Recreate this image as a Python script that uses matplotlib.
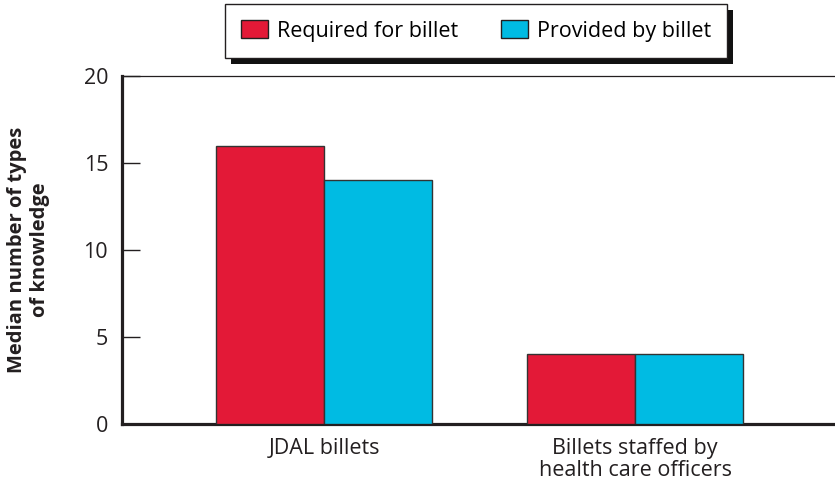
import numpy as np
import matplotlib
matplotlib.use('Agg')
import matplotlib.pyplot as plt
from matplotlib.patches import Rectangle

plt.rcParams['font.family'] = ['Open Sans', 'DejaVu Sans']

# data
groups = ['JDAL billets', 'Billets staffed by\nhealth care officers']
series = ['Required for billet', 'Provided by billet']
required = [16, 4]
provided = [14, 4]
colors = ['#E31937', '#00BBE3']

fig = plt.figure(figsize=(8.35, 4.83), dpi=100)
ax = fig.add_axes([122 / 835, 1 - 424 / 483, 1 - 122 / 835, (424 - 76) / 483])

x = np.arange(len(groups))
w = 0.347
ax.bar(x - w / 2, required, w, color=colors[0], edgecolor='#333333', linewidth=1, label=series[0], zorder=3)
ax.bar(x + w / 2, provided, w, color=colors[1], edgecolor='#333333', linewidth=1, label=series[1], zorder=3)

ax.set_xlim(-0.65, 1.643)
ax.set_ylim(0, 20)
ax.set_yticks([0, 5, 10, 15, 20])
ax.set_xticks(x)
ax.set_xticklabels(groups, fontsize=15.5, color='#231f20', linespacing=1.05)
ax.tick_params(axis='x', length=0, pad=10)
ax.tick_params(axis='y', direction='in', length=13, width=1, labelsize=15.5, pad=10, colors='#231f20')

for s in ['left', 'bottom']:
    ax.spines[s].set_linewidth(2.3)
    ax.spines[s].set_color('#231f20')
ax.spines['top'].set_linewidth(0.9)
ax.spines['top'].set_color('#231f20')
ax.spines['right'].set_visible(False)

fig.text(29 / 835, 1 - 250 / 483, 'Median number of types\nof knowledge', rotation=90,
         ha='center', va='center', fontsize=14.5, fontweight='bold', color='#231f20',
         linespacing=1.2)

leg = fig.legend(loc='center', bbox_to_anchor=(476 / 835, 1 - 31 / 483), ncol=2,
                 frameon=True, fancybox=False, framealpha=1, fontsize=15.5,
                 handlelength=1.25, handleheight=0.92, columnspacing=2.0, handletextpad=0.42,
                 borderpad=0.75, edgecolor='#231f20')
leg.get_frame().set_linewidth(1.0)
leg.get_frame().set_facecolor('white')
for h in leg.legend_handles:
    h.set_edgecolor('#231f20')

fig.canvas.draw()
bb = leg.get_window_extent()
off = 6
shadow = Rectangle((bb.x0 + off, bb.y0 - off), bb.width, bb.height, transform=None,
                   facecolor='#111111', edgecolor='none', zorder=leg.get_zorder() - 0.1)
fig.patches.append(shadow)

fig.savefig('out.png', dpi=100)
